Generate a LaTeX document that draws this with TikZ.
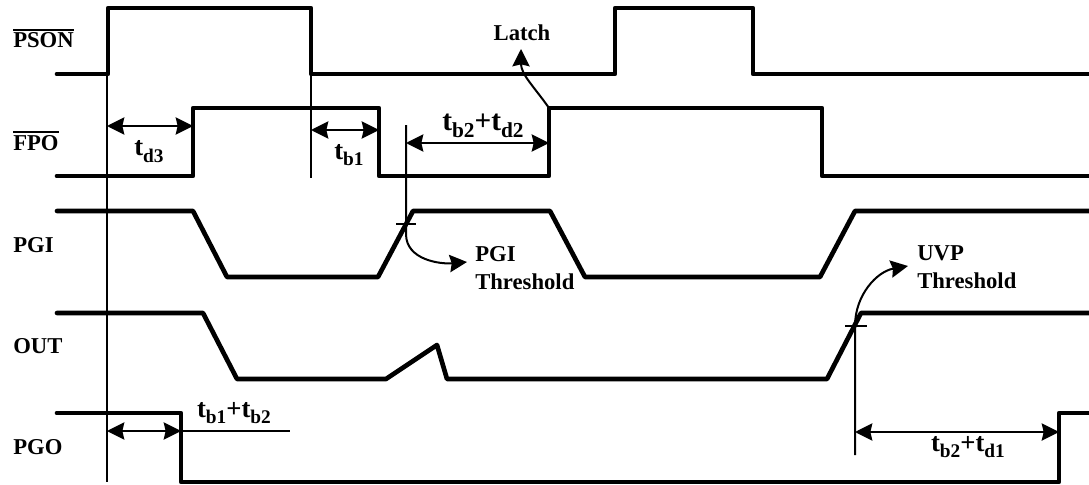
\documentclass[tikz,border=0pt]{standalone}
\usepackage{fontspec}
\setmainfont{Liberation Serif}
\usetikzlibrary{arrows.meta}

\newcommand{\subsz}{14}
\newcommand{\tdel}[1]{t\raisebox{-0.25em}{\fontsize{\subsz}{\subsz}\selectfont #1}}
\newcommand{\negsig}[1]{\leavevmode\vbox{\hrule height 1.6pt \kern 1.2pt \hbox{#1}}}

\begin{document}
\begin{tikzpicture}[x=0.75pt, y=-0.75pt,
    wave/.style={line width=3.5pt, line join=round, line cap=round},
    guide/.style={line width=1.5pt},
    dim/.style={line width=1.5pt, {Stealth[length=13pt,width=13pt,inset=1.5pt]}-{Stealth[length=13pt,width=13pt,inset=1.5pt]}},
    pointer/.style={line width=1.5pt, -{Stealth[length=13pt,width=13pt,inset=1.5pt]}},
    sig/.style={inner sep=0pt, font=\fontsize{17}{21}\selectfont\bfseries},
    tlbl/.style={anchor=base, inner sep=0pt, font=\fontsize{20}{24}\selectfont\bfseries\renewcommand{\subsz}{14.5}},
    tbig/.style={anchor=base, inner sep=0pt, font=\fontsize{22}{26}\selectfont\bfseries\renewcommand{\subsz}{16}}]
  \useasboundingbox (0,0) rectangle (1089,485);

  \node [sig, anchor=base west] (pson) at (13,48) {\negsig{PSON}};
  \node [sig, anchor=base west] (fpo) at (13,150) {\negsig{FPO}};
  \node [sig, anchor=base west] (pgi) at (13,252) {PGI};
  \node [sig, anchor=base west] (out) at (13,353) {OUT};
  \node [sig, anchor=base west] (pgo) at (13,454) {PGO};

  \draw [wave] (57,74) -- (108,74) -- (108,8) -- (311,8) -- (311,74) -- (615,74) -- (615,8) -- (753,8) -- (753,74) -- (1089,74);
  \draw [wave] (57,176) -- (193,176) -- (193,108) -- (379,108) -- (379,176) -- (549,176) -- (549,108) -- (822,108) -- (822,176) -- (1089,176);
  \draw [wave] (57,211) -- (193,211) -- (227,277) -- (378,277) -- (413,211) -- (550,211) -- (585,277) -- (820,277) -- (855,211) -- (1089,211);
  \draw [wave] (57,313) -- (203,313) -- (237,379) -- (386,379) -- (437,345) -- (447,379) -- (827,379) -- (861,313) -- (1089,313);
  \draw [wave] (57,413) -- (181,413) -- (181,482) -- (1059,482) -- (1059,413) -- (1089,413);

  \coordinate (on) at (107,74);
  \coordinate (onbot) at (107,482);
  \coordinate (off) at (311,74);
  \coordinate (offbot) at (311,178);
  \coordinate (pgitop) at (406,125);
  \coordinate (pgicross) at (406,224);
  \coordinate (uvpbot) at (855,455);
  \coordinate (uvpcross) at (855,326);
  \coordinate (latchfrom) at (549,108);
  \coordinate (latchtip) at (521,49);
  \draw [guide] (on) -- (onbot);
  \draw [guide] (off) -- (offbot);
  \draw [guide] (396,224) -- (416,224);
  \draw [guide] (845,326) -- (867,326);

  \node [sig, anchor=base] (latch) at (522,41) {Latch};
  \node [sig, anchor=north west, align=left] (pgith) at (475,246) {PGI\\Threshold};
  \node [sig, anchor=north west, align=left] (uvpth) at (917,245) {UVP\\Threshold};

  \draw [pointer] (latchfrom) to [out=125, in=-90] (latchtip);
  \draw [pointer] (pgitop) -- (pgicross) -- (406,234) to [out=-90, in=185] (467,262);
  \draw [pointer] (uvpbot) -- (uvpcross) to [out=90, in=190] (908,266);

  \coordinate (d3a) at (107,126);
  \coordinate (d3b) at (193,126);
  \coordinate (b1a) at (311,130);
  \coordinate (b1b) at (379,130);
  \coordinate (b2d2a) at (406,143);
  \coordinate (b2d2b) at (549,143);
  \coordinate (b1b2a) at (107,431);
  \coordinate (b1b2b) at (181,431);
  \coordinate (b1b2c) at (290,431);
  \coordinate (b2d1a) at (855,432);
  \coordinate (b2d1b) at (1059,432);
  \draw [dim] (d3a) -- (d3b);
  \draw [dim] (b1a) -- (b1b);
  \draw [dim] (b2d2a) -- (b2d2b);
  \draw [dim] (b1b2a) -- (b1b2b);
  \draw [guide] (b1b2b) -- (b1b2c);
  \draw [dim] (b2d1a) -- (b2d1b);

  \node [tlbl] (td3) at (149,156) {\tdel{d3}};
  \node [tlbl] (tb1) at (349,159) {\tdel{b1}};
  \node [tbig] (tb2d2) at (483,130) {\tdel{b2}+\tdel{d2}};
  \node [tlbl] (tb1b2) at (234,417) {\tdel{b1}+\tdel{b2}};
  \node [tlbl] (tb2d1) at (968,451) {\tdel{b2}+\tdel{d1}};

\end{tikzpicture}
\end{document}
